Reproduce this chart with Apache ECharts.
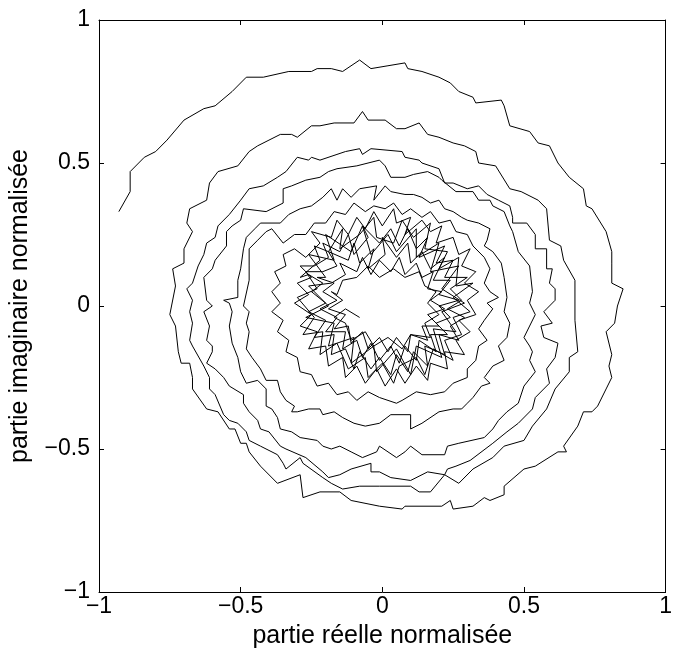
<!DOCTYPE html>
<html><head><meta charset="utf-8">
<script src="https://cdn.jsdelivr.net/npm/echarts/dist/echarts.min.js"></script>
<style>html,body{margin:0;padding:0;background:#fff}#c{width:675px;height:662px}</style>
</head><body><div id="c"></div>
<script>
const tickValues = [-1, -0.5, 0, 0.5, 1];
const tickLabels = ['\u22121', '\u22120.5', '0', '0.5', '1'];
const xTitle = 'partie réelle normalisée';
const yTitle = 'partie imaginaire normalisée';

const turn1 = [[-0.93,0.33],[-0.89,0.40],[-0.89,0.47],[-0.84,0.52],[-0.80,0.54],[-0.76,0.58],[-0.70,0.65],[-0.63,0.69],[-0.59,0.70],[-0.53,0.75],[-0.48,0.80],[-0.42,0.80],[-0.33,0.82],[-0.25,0.82],[-0.23,0.83],[-0.18,0.83],[-0.14,0.82],[-0.08,0.86],[-0.04,0.83],[0.02,0.84],[0.08,0.85],[0.09,0.83],[0.14,0.82],[0.20,0.80],[0.24,0.78],[0.27,0.75],[0.32,0.73],[0.33,0.71],[0.42,0.72],[0.43,0.70],[0.45,0.63],[0.52,0.61],[0.55,0.57],[0.59,0.56],[0.62,0.50],[0.66,0.45],[0.71,0.41],[0.72,0.35],[0.74,0.34],[0.79,0.26],[0.81,0.19],[0.81,0.15],[0.81,0.08],[0.85,0.06],[0.83,0.00],[0.82,-0.06],[0.79,-0.09],[0.81,-0.17],[0.80,-0.21],[0.81,-0.25],[0.79,-0.29],[0.76,-0.35],[0.74,-0.37],[0.71,-0.37],[0.69,-0.42],[0.64,-0.49],[0.65,-0.51],[0.62,-0.51],[0.54,-0.56],[0.50,-0.57],[0.43,-0.63],[0.43,-0.66],[0.38,-0.68],[0.36,-0.67],[0.32,-0.70],[0.25,-0.71],[0.24,-0.68],[0.21,-0.70],[0.08,-0.70],[0.07,-0.71],[-0.01,-0.70],[-0.11,-0.68],[-0.15,-0.65],[-0.22,-0.65],[-0.28,-0.67],[-0.29,-0.59],[-0.37,-0.62],[-0.43,-0.56],[-0.47,-0.51],[-0.48,-0.48],[-0.50,-0.48],[-0.52,-0.43],[-0.54,-0.43],[-0.58,-0.37],[-0.62,-0.36],[-0.67,-0.29],[-0.67,-0.25],[-0.68,-0.20],[-0.71,-0.20],[-0.72,-0.16],[-0.73,-0.07],[-0.75,-0.03]];

const turn2 = [[-0.73,0.07],[-0.74,0.13],[-0.70,0.15],[-0.70,0.20],[-0.67,0.26],[-0.69,0.29],[-0.68,0.34],[-0.62,0.37],[-0.61,0.43],[-0.58,0.47],[-0.51,0.49],[-0.47,0.54],[-0.44,0.56],[-0.40,0.58],[-0.36,0.60],[-0.32,0.60],[-0.30,0.59],[-0.25,0.63],[-0.22,0.63],[-0.17,0.64],[-0.10,0.64],[-0.07,0.68],[-0.05,0.65],[0.01,0.65],[0.05,0.62],[0.08,0.62],[0.13,0.64],[0.16,0.60],[0.20,0.59],[0.25,0.57],[0.29,0.56],[0.33,0.54],[0.34,0.50],[0.40,0.49],[0.45,0.41],[0.49,0.40],[0.55,0.37],[0.58,0.34],[0.59,0.23],[0.63,0.21],[0.64,0.16],[0.68,0.09],[0.68,0.00],[0.68,-0.05],[0.69,-0.16],[0.66,-0.18],[0.66,-0.23],[0.61,-0.29],[0.58,-0.36],[0.53,-0.42],[0.50,-0.47],[0.43,-0.49],[0.39,-0.53],[0.32,-0.57],[0.27,-0.62],[0.22,-0.59],[0.17,-0.65],[0.13,-0.65],[0.10,-0.63],[-0.01,-0.63],[-0.08,-0.63],[-0.14,-0.64],[-0.18,-0.62],[-0.21,-0.60],[-0.28,-0.55],[-0.29,-0.53],[-0.34,-0.57],[-0.35,-0.55],[-0.37,-0.52],[-0.43,-0.49],[-0.47,-0.47],[-0.48,-0.44],[-0.51,-0.41],[-0.54,-0.40],[-0.56,-0.38],[-0.59,-0.31],[-0.61,-0.29],[-0.61,-0.25],[-0.63,-0.21],[-0.67,-0.14],[-0.68,-0.12],[-0.67,-0.06],[-0.68,-0.02],[-0.67,0.02],[-0.69,0.06],[-0.67,0.08],[-0.65,0.14],[-0.63,0.18],[-0.62,0.22],[-0.59,0.24],[-0.58,0.28],[-0.54,0.32]];

const turn3 = [[-0.50,0.37],[-0.47,0.41],[-0.42,0.42],[-0.37,0.45],[-0.34,0.47],[-0.30,0.52],[-0.26,0.51],[-0.25,0.52],[-0.22,0.51],[-0.16,0.53],[-0.13,0.54],[-0.08,0.55],[-0.07,0.53],[-0.04,0.55],[0.07,0.54],[0.08,0.52],[0.13,0.51],[0.14,0.50],[0.20,0.48],[0.22,0.43],[0.25,0.43],[0.30,0.41],[0.34,0.42],[0.37,0.39],[0.41,0.37],[0.45,0.35],[0.46,0.31],[0.46,0.29],[0.51,0.29],[0.54,0.25],[0.54,0.20],[0.58,0.20],[0.58,0.13],[0.60,0.13],[0.59,0.08],[0.61,0.06],[0.61,0.02],[0.58,-0.01],[0.57,-0.02],[0.60,-0.06],[0.56,-0.07],[0.57,-0.11],[0.62,-0.13],[0.61,-0.18],[0.58,-0.22],[0.59,-0.27],[0.54,-0.32],[0.53,-0.36],[0.48,-0.41],[0.44,-0.44],[0.39,-0.48],[0.31,-0.54],[0.26,-0.56],[0.23,-0.57],[0.22,-0.59],[0.16,-0.58],[0.10,-0.61],[0.03,-0.60],[-0.01,-0.58],[-0.04,-0.58],[-0.04,-0.55],[-0.11,-0.57],[-0.15,-0.59],[-0.19,-0.60],[-0.21,-0.58],[-0.27,-0.53],[-0.34,-0.50],[-0.36,-0.49],[-0.40,-0.44],[-0.43,-0.43],[-0.44,-0.40],[-0.47,-0.37],[-0.49,-0.34],[-0.49,-0.31],[-0.54,-0.28],[-0.56,-0.25],[-0.59,-0.22],[-0.62,-0.20],[-0.60,-0.16],[-0.60,-0.14],[-0.62,-0.12],[-0.61,-0.07],[-0.63,-0.02],[-0.60,0.00],[-0.62,0.02],[-0.63,0.10],[-0.60,0.13],[-0.59,0.16],[-0.55,0.21],[-0.55,0.26],[-0.53,0.28],[-0.50,0.30],[-0.49,0.34]];

const turn4 = [[-0.41,0.33],[-0.35,0.36],[-0.35,0.41],[-0.32,0.42],[-0.27,0.44],[-0.22,0.45],[-0.19,0.47],[-0.16,0.48],[-0.09,0.49],[-0.01,0.51],[0.01,0.49],[0.03,0.45],[0.08,0.45],[0.11,0.46],[0.16,0.47],[0.20,0.45],[0.21,0.44],[0.26,0.40],[0.32,0.40],[0.34,0.37],[0.38,0.37],[0.39,0.35],[0.43,0.33],[0.45,0.28],[0.46,0.26],[0.48,0.19],[0.52,0.14],[0.53,0.05],[0.52,0.01],[0.54,-0.03],[0.52,-0.07],[0.50,-0.11],[0.52,-0.14],[0.53,-0.16],[0.52,-0.19],[0.54,-0.23],[0.50,-0.28],[0.48,-0.34],[0.44,-0.37],[0.41,-0.40],[0.39,-0.43],[0.36,-0.46],[0.27,-0.48],[0.23,-0.49],[0.22,-0.52],[0.14,-0.52],[0.10,-0.49],[0.08,-0.51],[0.05,-0.53],[-0.01,-0.49],[-0.02,-0.51],[-0.07,-0.53],[-0.11,-0.51],[-0.15,-0.49],[-0.18,-0.50],[-0.21,-0.49],[-0.23,-0.47],[-0.29,-0.46],[-0.32,-0.44],[-0.36,-0.43],[-0.37,-0.39],[-0.39,-0.36],[-0.41,-0.35],[-0.41,-0.29],[-0.44,-0.26],[-0.48,-0.27],[-0.50,-0.23],[-0.51,-0.18],[-0.53,-0.13],[-0.54,-0.07],[-0.53,-0.02],[-0.54,0.01],[-0.56,0.02],[-0.51,0.03],[-0.51,0.09],[-0.50,0.13],[-0.49,0.20],[-0.48,0.24],[-0.45,0.27],[-0.43,0.29]];

const turn5 = [[-0.36,0.29],[-0.33,0.32],[-0.29,0.34],[-0.25,0.35],[-0.21,0.38],[-0.18,0.41],[-0.16,0.37],[-0.14,0.41],[-0.11,0.38],[-0.08,0.41],[-0.02,0.42],[-0.03,0.37],[0.01,0.42],[0.03,0.40],[0.08,0.39],[0.11,0.39],[0.14,0.38],[0.17,0.36],[0.20,0.37],[0.22,0.34],[0.25,0.33],[0.28,0.31],[0.30,0.30],[0.34,0.29],[0.38,0.27],[0.37,0.23],[0.36,0.21],[0.39,0.19],[0.42,0.15],[0.43,0.10],[0.44,0.03],[0.43,-0.02],[0.45,-0.06],[0.44,-0.11],[0.41,-0.14],[0.43,-0.19],[0.39,-0.21],[0.36,-0.25],[0.38,-0.27],[0.35,-0.28],[0.32,-0.32],[0.30,-0.34],[0.28,-0.36],[0.25,-0.36],[0.20,-0.37],[0.14,-0.41],[0.10,-0.43],[0.10,-0.38],[0.03,-0.38],[-0.01,-0.41],[-0.06,-0.42],[-0.10,-0.41],[-0.14,-0.39],[-0.17,-0.37],[-0.21,-0.38],[-0.22,-0.36],[-0.26,-0.36],[-0.30,-0.37],[-0.32,-0.37],[-0.31,-0.35],[-0.34,-0.33],[-0.36,-0.30],[-0.37,-0.26],[-0.41,-0.26],[-0.43,-0.22],[-0.46,-0.18],[-0.48,-0.15],[-0.47,-0.09],[-0.48,-0.06],[-0.47,-0.02],[-0.49,0.00],[-0.47,0.09],[-0.47,0.14],[-0.47,0.20],[-0.44,0.23],[-0.41,0.26],[-0.39,0.27]];

const turn6 = [[-0.35,0.22],[-0.31,0.25],[-0.27,0.25],[-0.24,0.29],[-0.20,0.29],[-0.17,0.33],[-0.13,0.32],[-0.10,0.36],[-0.06,0.33],[-0.03,0.35],[0.01,0.34],[0.04,0.36],[0.07,0.32],[0.10,0.34],[0.14,0.31],[0.17,0.33],[0.20,0.29],[0.24,0.30],[0.26,0.26],[0.30,0.25],[0.32,0.21],[0.36,0.17],[0.38,0.13],[0.36,0.08],[0.38,0.05],[0.41,0.03],[0.37,0.01],[0.39,-0.01],[0.36,-0.05],[0.34,-0.08],[0.37,-0.12],[0.34,-0.14],[0.33,-0.19],[0.30,-0.22],[0.30,-0.25],[0.25,-0.27],[0.22,-0.30],[0.17,-0.31],[0.12,-0.30],[0.07,-0.33],[0.05,-0.34],[-0.01,-0.32],[-0.05,-0.30],[-0.09,-0.33],[-0.12,-0.30],[-0.16,-0.31],[-0.19,-0.27],[-0.23,-0.28],[-0.25,-0.24],[-0.29,-0.23],[-0.30,-0.18],[-0.34,-0.16],[-0.33,-0.12],[-0.37,-0.09],[-0.35,-0.05],[-0.39,-0.02],[-0.36,0.01],[-0.39,0.05],[-0.36,0.08],[-0.38,0.12],[-0.34,0.14],[-0.35,0.18],[-0.31,0.20]];

const turn7 = [[-0.27,0.17],[-0.22,0.22],[-0.25,0.26],[-0.18,0.24],[-0.16,0.30],[-0.12,0.25],[-0.09,0.31],[-0.06,0.27],[-0.03,0.33],[0.00,0.28],[0.04,0.34],[0.05,0.29],[0.10,0.31],[0.08,0.25],[0.14,0.30],[0.17,0.26],[0.21,0.28],[0.19,0.22],[0.25,0.24],[0.27,0.18],[0.31,0.20],[0.28,0.14],[0.33,0.12],[0.29,0.08],[0.34,0.05],[0.30,0.02],[0.33,-0.03],[0.27,-0.05],[0.31,-0.09],[0.26,-0.12],[0.29,-0.17],[0.22,-0.16],[0.23,-0.22],[0.17,-0.20],[0.16,-0.26],[0.12,-0.21],[0.08,-0.27],[0.05,-0.22],[0.01,-0.28],[-0.02,-0.22],[-0.06,-0.27],[-0.09,-0.21],[-0.13,-0.25],[-0.14,-0.18],[-0.19,-0.21],[-0.20,-0.14],[-0.26,-0.15],[-0.23,-0.09],[-0.29,-0.07],[-0.25,-0.03],[-0.31,0.01],[-0.26,0.04],[-0.30,0.08],[-0.25,0.10],[-0.29,0.14]];

const turn8 = [[-0.24,0.14],[-0.19,0.17],[-0.21,0.22],[-0.15,0.19],[-0.12,0.25],[-0.10,0.18],[-0.05,0.24],[-0.07,0.28],[-0.01,0.22],[0.03,0.27],[0.06,0.21],[0.09,0.27],[0.12,0.20],[0.16,0.24],[0.13,0.17],[0.22,0.21],[0.19,0.15],[0.25,0.16],[0.22,0.10],[0.30,0.10],[0.24,0.06],[0.28,0.02],[0.23,-0.01],[0.29,-0.04],[0.24,-0.07],[0.27,-0.12],[0.20,-0.10],[0.22,-0.17],[0.15,-0.14],[0.16,-0.21],[0.11,-0.16],[0.09,-0.23],[0.05,-0.17],[0.03,-0.24],[-0.01,-0.18],[-0.04,-0.22],[-0.08,-0.16],[-0.10,-0.22],[-0.13,-0.15],[-0.18,-0.17],[-0.17,-0.10],[-0.24,-0.11],[-0.20,-0.05],[-0.26,-0.02],[-0.20,0.01],[-0.25,0.05],[-0.21,0.08],[-0.26,0.11]];

const turn9 = [[-0.29,0.10],[-0.22,0.16],[-0.24,0.21],[-0.19,0.19],[-0.14,0.27],[-0.15,0.20],[-0.08,0.25],[-0.03,0.31],[-0.02,0.24],[0.04,0.22],[0.07,0.30],[0.11,0.24],[0.17,0.29],[0.15,0.20],[0.23,0.19],[0.20,0.13],[0.27,0.17],[0.26,0.07],[0.32,0.08],[0.25,0.03],[0.31,-0.02],[0.25,-0.04],[0.28,-0.10],[0.22,-0.12],[0.25,-0.19],[0.18,-0.15],[0.15,-0.24],[0.12,-0.18],[0.06,-0.21],[0.04,-0.27],[0.00,-0.20],[-0.05,-0.25],[-0.06,-0.18],[-0.12,-0.22],[-0.16,-0.13],[-0.22,-0.17],[-0.21,-0.09],[-0.28,-0.10],[-0.24,-0.04],[-0.30,0.03],[-0.23,0.06],[-0.27,0.12]];

const turn10 = [[-0.21,0.12],[-0.16,0.14],[-0.19,0.19],[-0.12,0.16],[-0.10,0.22],[-0.08,0.15],[-0.03,0.20],[-0.05,0.13],[0.01,0.18],[0.00,0.24],[0.05,0.17],[0.09,0.22],[0.10,0.15],[0.14,0.19],[0.17,0.13],[0.22,0.17],[0.18,0.09],[0.24,0.09],[0.20,0.04],[0.27,0.02],[0.20,0.00],[0.24,-0.04],[0.19,-0.06],[0.23,-0.10],[0.17,-0.10],[0.19,-0.16],[0.13,-0.12],[0.12,-0.19],[0.08,-0.14],[0.06,-0.20],[0.03,-0.14],[-0.01,-0.19],[-0.04,-0.13],[-0.07,-0.18],[-0.09,-0.12],[-0.14,-0.15],[-0.13,-0.09],[-0.20,-0.09],[-0.16,-0.04],[-0.22,-0.01],[-0.16,0.02],[-0.21,0.05],[-0.17,0.08],[-0.23,0.10]];

const turn11 = [[-0.20,0.10],[-0.26,0.18],[-0.17,0.16],[-0.20,0.25],[-0.11,0.19],[-0.07,0.28],[-0.04,0.18],[0.02,0.25],[0.05,0.19],[0.12,0.27],[0.12,0.17],[0.20,0.22],[0.17,0.12],[0.27,0.14],[0.21,0.06],[0.29,0.01],[0.21,-0.02],[0.26,-0.09],[0.18,-0.08],[0.21,-0.18],[0.12,-0.14],[0.10,-0.24],[0.05,-0.15],[-0.02,-0.23],[-0.03,-0.14],[-0.11,-0.20],[-0.10,-0.11],[-0.19,-0.14],[-0.17,-0.06],[-0.27,-0.04],[-0.19,0.00],[-0.26,0.07],[-0.18,0.08]];

const turn12 = [[-0.18,0.08],[-0.13,0.11],[-0.15,0.15],[-0.09,0.12],[-0.07,0.17],[-0.04,0.11],[-0.01,0.16],[0.03,0.12],[0.06,0.17],[0.08,0.11],[0.12,0.15],[0.14,0.10],[0.18,0.12],[0.16,0.06],[0.21,0.05],[0.17,0.02],[0.22,-0.01],[0.16,-0.03],[0.20,-0.07],[0.14,-0.07],[0.16,-0.12],[0.10,-0.10],[0.09,-0.16],[0.05,-0.11],[0.02,-0.16],[-0.01,-0.11],[-0.05,-0.15],[-0.07,-0.09],[-0.11,-0.13],[-0.12,-0.07],[-0.17,-0.08],[-0.13,-0.03],[-0.19,-0.01],[-0.14,0.02],[-0.18,0.05]];

const turn13 = [[-0.16,0.04],[-0.14,0.09],[-0.09,0.10],[-0.05,0.14],[-0.01,0.10],[0.04,0.13],[0.08,0.10],[0.13,0.12],[0.15,0.07],[0.19,0.05],[0.16,0.01],[0.20,-0.03],[0.15,-0.06],[0.17,-0.11],[0.10,-0.10],[0.07,-0.15],[0.02,-0.11],[-0.03,-0.14],[-0.06,-0.09],[-0.11,-0.12],[-0.13,-0.06],[-0.17,-0.04],[-0.13,-0.01],[-0.08,-0.04]];

const spiral = [].concat(turn1, turn2, turn3, turn4, turn5, turn6, turn7, turn8, turn9, turn10, turn11, turn12, turn13);

const font = '"Liberation Sans", Arial, Helvetica, sans-serif';
const fmt = v => { const i = tickValues.indexOf(v); return i >= 0 ? tickLabels[i] : ''; };
const baseAxis = {
  type: 'value', min: -1, max: 1, interval: 0.5,
  axisLine: { show: true, onZero: false, lineStyle: { color: '#000', width: 1 } },
  axisTick: { show: true, inside: true, length: 5, lineStyle: { color: '#000', width: 1 } },
  splitLine: { show: false }
};
const labelStyle = { color: '#000', fontSize: 23, fontFamily: font, showMinLabel: true, showMaxLabel: true, hideOverlap: false };

const chart = echarts.init(document.getElementById('c'), null, { renderer: 'canvas' });
chart.setOption({
  animation: false,
  backgroundColor: '#fff',
  grid: { left: 97, top: 20, width: 574, height: 572, containLabel: false },
  xAxis: [
    Object.assign({}, baseAxis, { position: 'bottom',
      axisLabel: Object.assign({}, labelStyle, { formatter: fmt, margin: 3 }),
      name: xTitle, nameLocation: 'middle', nameGap: 32,
      nameTextStyle: { color: '#000', fontSize: 25, fontFamily: font } }),
    Object.assign({}, baseAxis, { position: 'top', axisLabel: { show: false } })
  ],
  yAxis: [
    Object.assign({}, baseAxis, { position: 'left',
      axisLabel: Object.assign({}, labelStyle, { formatter: fmt, margin: 9 }),
      name: yTitle, nameLocation: 'middle', nameGap: 66,
      nameTextStyle: { color: '#000', fontSize: 25, fontFamily: font } }),
    Object.assign({}, baseAxis, { position: 'right', axisLabel: { show: false } })
  ],
  series: [{
    type: 'line', data: spiral, xAxisIndex: 0, yAxisIndex: 0,
    showSymbol: false, symbol: 'none', smooth: false,
    lineStyle: { color: '#000', width: 1 }
  }]
});
</script>
</body></html>
